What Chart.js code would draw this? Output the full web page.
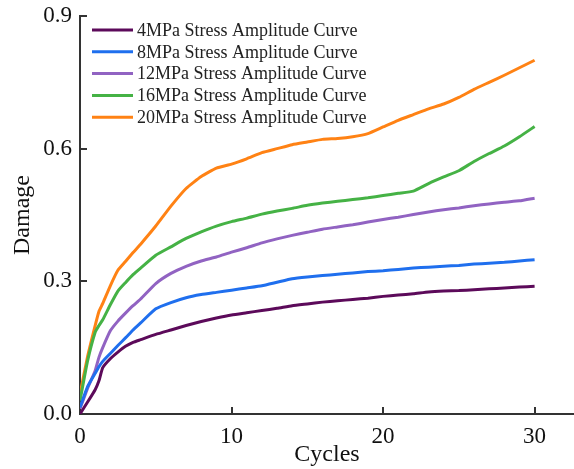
<!DOCTYPE html>
<html>
<head>
<meta charset="utf-8">
<script src="https://cdn.jsdelivr.net/npm/chart.js@4"></script>
<style>
  html, body { margin: 0; padding: 0; background: #fff; }
  #wrap { position: relative; width: 574px; height: 469px; }
</style>
</head>
<body>
<div id="wrap"><canvas id="damageChart"></canvas></div>
<script>
// cycles shared by all curves
const cycles = [0, 0.5, 1, 1.25, 1.5, 2, 2.5, 3, 3.5, 4, 5, 6, 7, 8, 9, 10, 11, 12, 13, 14, 15,
                16, 17, 18, 19, 20, 21, 22, 23, 24, 25, 26, 27, 28, 29, 30];

const damage4 = [0, 0.027, 0.055, 0.075, 0.105, 0.125, 0.14, 0.153, 0.162, 0.168, 0.18, 0.19, 0.2, 0.209,
                 0.217, 0.224, 0.229, 0.234, 0.239, 0.245, 0.249, 0.253, 0.256, 0.259, 0.262, 0.266, 0.269,
                 0.272, 0.276, 0.278, 0.279, 0.281, 0.283, 0.285, 0.287, 0.289];
const damage8 = [0.015, 0.062, 0.092, 0.107, 0.119, 0.137, 0.155, 0.172, 0.19, 0.206, 0.238, 0.252, 0.263,
                 0.27, 0.275, 0.28, 0.285, 0.29, 0.298, 0.306, 0.31, 0.313, 0.316, 0.319, 0.322, 0.324,
                 0.327, 0.33, 0.332, 0.334, 0.336, 0.339, 0.341, 0.343, 0.346, 0.349];
const damage12 = [0.012, 0.058, 0.098, 0.128, 0.15, 0.188, 0.21, 0.228, 0.245, 0.26, 0.295, 0.318, 0.334,
                  0.346, 0.355, 0.366, 0.376, 0.387, 0.396, 0.404, 0.411, 0.418, 0.423, 0.428, 0.434, 0.44,
                  0.445, 0.451, 0.457, 0.462, 0.466, 0.471, 0.475, 0.479, 0.482, 0.488];
const damage16 = [0.03, 0.12, 0.185, 0.2, 0.213, 0.247, 0.278, 0.297, 0.315, 0.33, 0.359, 0.378, 0.397,
                  0.412, 0.425, 0.435, 0.443, 0.452, 0.459, 0.465, 0.472, 0.477, 0.481, 0.485, 0.489, 0.494,
                  0.499, 0.504, 0.521, 0.536, 0.55, 0.571, 0.589, 0.606, 0.627, 0.65];
const damage20 = [0.045, 0.13, 0.2, 0.232, 0.25, 0.29, 0.325, 0.345, 0.365, 0.384, 0.425, 0.47, 0.51, 0.537,
                  0.556, 0.565, 0.577, 0.591, 0.6, 0.609, 0.615, 0.621, 0.623, 0.627, 0.634, 0.649, 0.664,
                  0.677, 0.69, 0.701, 0.716, 0.734, 0.75, 0.766, 0.783, 0.8];

const seriesLabels = ["4MPa Stress Amplitude Curve", "8MPa Stress Amplitude Curve", "12MPa Stress Amplitude Curve",
                      "16MPa Stress Amplitude Curve", "20MPa Stress Amplitude Curve"];
const seriesColors = ["#5c0a5a", "#1f6fee", "#9163c2", "#45b245", "#ff8214"];
const seriesData = [damage4, damage8, damage12, damage16, damage20];

const xTicks = [0, 10, 20, 30];
const yTicks = [0, 0.3, 0.6, 0.9];

const serif = "'Liberation Serif', 'DejaVu Serif', serif";
const axisColor = "#333";

// inward tick marks + legend drawn inside the plot
const innerDecor = {
    id: "innerDecor",
    afterDraw(chart) {
        const { ctx, chartArea, scales } = chart;
        ctx.save();
        ctx.strokeStyle = axisColor;
        ctx.lineWidth = 2;
        ctx.beginPath();
        xTicks.forEach(v => {
            if (v === 0) return;
            const px = Math.round(scales.x.getPixelForValue(v));
            ctx.moveTo(px, chartArea.bottom);
            ctx.lineTo(px, chartArea.bottom - 7);
        });
        yTicks.forEach(v => {
            if (v === 0) return;
            const py = Math.round(scales.y.getPixelForValue(v));
            ctx.moveTo(chartArea.left, py);
            ctx.lineTo(chartArea.left + 7, py);
        });
        ctx.stroke();

        // legend
        ctx.font = "18px " + serif;
        ctx.textBaseline = "middle";
        ctx.fillStyle = "#222";
        chart.data.datasets.forEach((ds, i) => {
            const y = 30 + i * 21.8;
            ctx.strokeStyle = ds.borderColor;
            ctx.lineWidth = 3;
            ctx.beginPath();
            ctx.moveTo(92, y);
            ctx.lineTo(133, y);
            ctx.stroke();
            ctx.fillText(ds.label, 137, y + 1);
        });
        ctx.restore();
    }
};

new Chart(document.getElementById("damageChart"), {
    type: "line",
    data: {
        labels: cycles,
        datasets: seriesData.map((vals, i) => ({
            label: seriesLabels[i],
            data: vals.map((v, j) => ({ x: cycles[j], y: v })),
            borderColor: seriesColors[i],
            backgroundColor: seriesColors[i],
            borderWidth: 3,
            pointRadius: 0,
            tension: 0.15,
            fill: false
        }))
    },
    options: {
        responsive: true,
        maintainAspectRatio: false,
        animation: false,
        layout: { padding: { top: 16, right: 0, bottom: 0, left: 0 } },
        plugins: {
            legend: { display: false },
            tooltip: { enabled: false }
        },
        scales: {
            x: {
                type: "linear",
                min: 0,
                max: 32.6,
                afterBuildTicks: s => { s.ticks = xTicks.map(v => ({ value: v })); },
                afterFit: s => { s.height = 55; s.paddingLeft = 0; s.paddingRight = 0; },
                grid: { display: false, drawTicks: false },
                border: { display: true, color: axisColor, width: 2 },
                ticks: {
                    color: "#111",
                    padding: 9,
                    maxRotation: 0,
                    font: { family: serif, size: 23 },
                    callback: v => String(v)
                },
                title: {
                    display: true,
                    text: "Cycles",
                    color: "#111",
                    padding: { top: 0, bottom: 0 },
                    font: { family: serif, size: 24 }
                }
            },
            y: {
                min: 0,
                max: 0.9,
                afterBuildTicks: s => { s.ticks = yTicks.map(v => ({ value: v })); },
                afterFit: s => { s.width = 80; s.paddingTop = 0; s.paddingBottom = 0; },
                grid: { display: false, drawTicks: false },
                border: { display: true, color: axisColor, width: 2 },
                ticks: {
                    color: "#111",
                    padding: 8,
                    font: { family: serif, size: 23 },
                    callback: v => v.toFixed(1)
                },
                title: {
                    display: true,
                    text: "Damage",
                    color: "#111",
                    padding: { top: 8, bottom: 0 },
                    font: { family: serif, size: 24 }
                }
            }
        }
    },
    plugins: [innerDecor]
});
</script>
</body>
</html>
